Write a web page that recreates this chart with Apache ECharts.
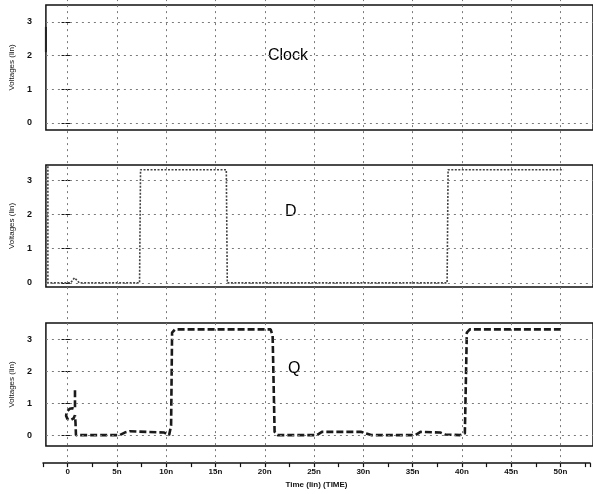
<!DOCTYPE html>
<html>
<head>
<meta charset="utf-8">
<script src="https://cdn.jsdelivr.net/npm/echarts@6/dist/echarts.min.js"></script>
<style>html,body{margin:0;padding:0;background:#fff;}#c{width:593px;height:494px;}</style>
</head>
<body>
<div id="c"></div>
<script>
// ---- data ----
const panelNames = ['Clock', 'D', 'Q'];
const yTickValues = [0, 1, 2, 3];
const xGridValues = [0, 5, 10, 15, 20, 25, 30, 35, 40, 45, 50];
const xTickLabels = ['0', '5n', '10n', '15n', '20n', '25n', '30n', '35n', '40n', '45n', '50n'];
const xAxisTitle = 'Time (lin) (TIME)';
const yAxisTitle = 'Voltages (lin)';

const clockTime = [-2.5, -2.5];
const clockVolt = [2.85, 2.1];

const dTime = [-2.3, -2.3, 0, 0.4, 0.9, 7.0, 7.1, 15.8, 15.9, 38.2, 38.3, 50];
const dVolt = [3.4, 0.0, 0.0, 0.15, 0.0, 0.0, 3.3, 3.3, 0.0, 0.0, 3.3, 3.3];

const qTime = [0.45, 0.45, 0.2, -0.1, -0.4, -0.45, -0.3, 0.0, 0.3, 0.45, 0.5, 0.55, 5.0, 5.5, 6.0, 9.5, 10.0, 10.2, 10.3, 10.6, 20.3, 20.5, 20.7, 21.0, 25.0, 25.5, 29.5, 30.0, 30.5, 35.0, 35.5, 37.5, 38.0, 39.5, 40.0, 40.2, 40.5, 50.0];
const qVolt = [1.4, 0.82, 0.84, 0.82, 0.72, 0.6, 0.5, 0.47, 0.52, 0.62, 0.4, 0.0, 0.0, 0.08, 0.12, 0.08, 0.0, 0.3, 3.2, 3.3, 3.3, 3.1, 0.1, 0.0, 0.0, 0.1, 0.1, 0.05, 0.0, 0.0, 0.1, 0.08, 0.02, 0.0, 0.05, 3.2, 3.3, 3.3];

// ---- layout ----
const X_MIN = -2.5, X_MAX = 53;
const panels = [
  { top: 5, height: 125, min: -0.21, max: 3.5 },
  { top: 165, height: 122, min: -0.12, max: 3.44 },
  { top: 323, height: 123, min: -0.34, max: 3.5 }
];
const zip = (a, b) => a.map((v, i) => [v, b[i]]);
const gridLineStyle = { color: '#7a7a7a', width: 1, type: [2, 4] };
const lblFont = { fontFamily: 'Liberation Sans', fontWeight: 'bold', fontSize: 8, color: '#111' };

const grid = panels.map(p => ({
  left: 43, right: -6, top: p.top, height: p.height,
  show: true, borderColor: '#111', borderWidth: 1.5, backgroundColor: 'transparent'
}));
grid.push({ left: 43, right: -6, top: 0, bottom: 28 });

const xAxis = panels.map((p, i) => ({
  type: 'value', gridIndex: i, min: X_MIN, max: X_MAX, show: false
}));
xAxis.push({
  type: 'value', gridIndex: 3, min: X_MIN, max: X_MAX, interval: 2.5,
  axisLine: { show: true, onZero: false, lineStyle: { color: '#111', width: 1.5 } },
  axisTick: { show: true, length: 4, lineStyle: { color: '#111', width: 1.2 } },
  splitLine: { show: false },
  axisLabel: Object.assign({}, lblFont, {
    margin: 5,
    formatter: v => { const k = xGridValues.indexOf(v); return k >= 0 ? xTickLabels[k] : ''; }
  }),
  name: xAxisTitle, nameLocation: 'middle', nameGap: 17,
  nameTextStyle: Object.assign({}, lblFont, { fontSize: 8 })
});

const yAxis = panels.map((p, i) => ({
  type: 'value', gridIndex: i, min: p.min, max: p.max,
  axisLine: { show: false },
  axisTick: { show: true, length: 9, customValues: yTickValues, lineStyle: { color: '#111', width: 1 } },
  axisLabel: Object.assign({}, lblFont, { fontSize: 9, margin: 14, customValues: yTickValues }),
  splitLine: { show: false },
  name: yAxisTitle, nameLocation: 'middle', nameGap: 28, nameRotate: 90,
  nameTextStyle: Object.assign({}, lblFont, { fontWeight: 'normal', fontSize: 8 })
}));
yAxis.push({ type: 'value', gridIndex: 3, min: 0, max: 1, show: false });

const hGrid = {
  silent: true, symbol: 'none', label: { show: false },
  lineStyle: gridLineStyle,
  data: yTickValues.map(v => ({ yAxis: v }))
};

const series = [
  {
    type: 'line', xAxisIndex: 3, yAxisIndex: 3, data: [[X_MIN, -5]], showSymbol: false,
    lineStyle: { width: 0 },
    markLine: {
      silent: true, symbol: 'none', label: { show: false }, lineStyle: gridLineStyle,
      data: xGridValues.map(v => ({ xAxis: v }))
    }
  },
  {
    name: panelNames[0], type: 'line', xAxisIndex: 0, yAxisIndex: 0,
    data: zip(clockTime, clockVolt), showSymbol: false,
    lineStyle: { color: '#222', width: 2 }, markLine: hGrid
  },
  {
    name: panelNames[1], type: 'line', xAxisIndex: 1, yAxisIndex: 1,
    data: zip(dTime, dVolt), showSymbol: false,
    lineStyle: { color: '#444', width: 1.6, type: [2, 1.5] }, markLine: hGrid
  },
  {
    name: panelNames[2], type: 'line', xAxisIndex: 2, yAxisIndex: 2,
    data: zip(qTime, qVolt), showSymbol: false, smooth: false,
    lineStyle: { color: '#1a1a1a', width: 2.6, type: [7, 3] }, markLine: hGrid
  }
];

const graphic = [
  { type: 'text', left: 268, top: 48, style: { text: panelNames[0], font: '16px "Liberation Sans"', fill: '#000' } },
  { type: 'text', left: 285, top: 204, style: { text: panelNames[1], font: '16px "Liberation Sans"', fill: '#000' } },
  { type: 'text', left: 288, top: 361, style: { text: panelNames[2], font: '16px "Liberation Sans"', fill: '#000' } }
];

const chart = echarts.init(document.getElementById('c'), null, { renderer: 'canvas' });
chart.setOption({ animation: false, backgroundColor: '#fff', grid, xAxis, yAxis, series, graphic });
</script>
</body>
</html>
